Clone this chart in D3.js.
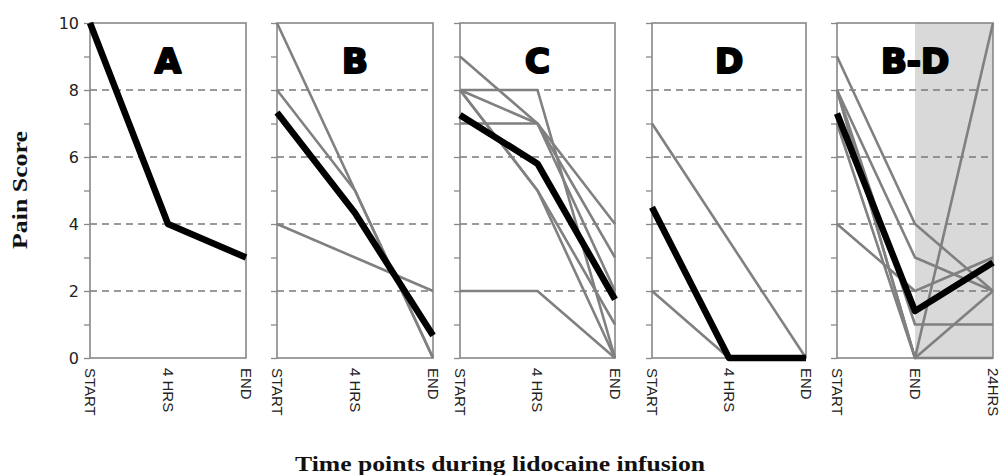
<!DOCTYPE html>
<html>
<head>
<meta charset="utf-8">
<script src="https://cdnjs.cloudflare.com/ajax/libs/d3/7.8.5/d3.min.js"></script>
<style>
  html, body { margin: 0; padding: 0; background: #fff; }
  svg { display: block; }
</style>
</head>
<body>
<script>
// ---- data ----
const categoriesMain = ["START", "4 HRS", "END"];
const categoriesBD = ["START", "END", "24HRS"];
const yTickLabels = [0, 2, 4, 6, 8, 10];
const panelTitles = ["A", "B", "C", "D", "B-D"];

const panelA_patients = [];
const panelA_mean = [10, 4, 3];

const panelB_patients = [[10, 5, 0], [8, 5, 0], [4, 3, 2]];
const panelB_mean = [7.33, 4.33, 0.67];

const panelC_patients = [[9, 7, 4], [8, 8, 0], [8, 7, 3], [7, 7, 2], [8, 5, 1], [8, 5, 0], [2, 2, 0]];
const panelC_mean = [7.25, 5.8, 1.75];

const panelD_patients = [[7, null, 0], [2, 0, 0]];
const panelD_mean = [4.5, 0, 0];

const panelBD_patients = [[9, 4, 2], [8, 3, 2], [4, 2, 3], [8, 0, 10], [8, 1, 1], [8, 0, 2], [7, 0, 0]];
const panelBD_mean = [7.3, 1.4, 2.85];

// ---- layout ----
const W = 1001, H = 475;
const plotTop = 23, plotBottom = 358;
const panels = [
  { title: panelTitles[0], cats: categoriesMain, patients: panelA_patients, mean: panelA_mean, x0: 90, x1: 246 },
  { title: panelTitles[1], cats: categoriesMain, patients: panelB_patients, mean: panelB_mean, x0: 277, x1: 433 },
  { title: panelTitles[2], cats: categoriesMain, patients: panelC_patients, mean: panelC_mean, x0: 460, x1: 615 },
  { title: panelTitles[3], cats: categoriesMain, patients: panelD_patients, mean: panelD_mean, x0: 652, x1: 806 },
  { title: panelTitles[4], cats: categoriesBD, patients: panelBD_patients, mean: panelBD_mean, x0: 837, x1: 993, shade: true }
];

const svg = d3.select("body").append("svg").attr("width", W).attr("height", H);
const y = d3.scaleLinear().domain([0, 10]).range([plotBottom, plotTop]);

const gray = "#808080";

panels.forEach((p, pi) => {
  const x = d3.scalePoint().domain(p.cats).range([p.x0, p.x1]).padding(0);
  const g = svg.append("g");

  if (p.shade) {
    g.append("rect")
      .attr("x", x(p.cats[1])).attr("y", y(10))
      .attr("width", x(p.cats[2]) - x(p.cats[1]))
      .attr("height", y(0) - y(10))
      .attr("fill", "#d9d9d9");
  }

  // gridlines
  g.selectAll("line.grid").data([2, 4, 6, 8]).enter().append("line")
    .attr("x1", p.x0).attr("x2", p.x1 - 4)
    .attr("y1", d => y(d)).attr("y2", d => y(d))
    .attr("stroke", "#7a7a7a").attr("stroke-width", 1.6)
    .attr("stroke-dasharray", "7,5");

  // left axis ticks
  const axis = d3.axisLeft(y).ticks(10).tickSize(6)
    .tickFormat(d => (pi === 0 && yTickLabels.includes(d)) ? d : "");
  const ax = g.append("g").attr("transform", `translate(${p.x0},0)`).call(axis);
  ax.select(".domain").remove();
  ax.selectAll(".tick line").attr("stroke", "#888").attr("stroke-width", 1.3);
  ax.selectAll(".tick text")
    .attr("font-family", "DejaVu Sans, sans-serif")
    .attr("font-size", 16).attr("fill", "#222").attr("x", -11);

  // frame
  g.append("rect")
    .attr("x", p.x0).attr("y", y(10))
    .attr("width", p.x1 - p.x0).attr("height", y(0) - y(10))
    .attr("fill", "none").attr("stroke", "#888").attr("stroke-width", 1.6);

  const line = d3.line()
    .x(d => x(d.c)).y(d => y(d.v));
  const toPts = arr => arr.map((v, i) => ({ c: p.cats[i], v })).filter(d => d.v !== null);

  g.selectAll("path.pt").data(p.patients).enter().append("path")
    .attr("d", d => line(toPts(d)))
    .attr("fill", "none").attr("stroke", gray).attr("stroke-width", 2.6)
    .attr("stroke-linejoin", "round");

  g.append("path")
    .attr("d", line(toPts(p.mean)))
    .attr("fill", "none").attr("stroke", "#000").attr("stroke-width", 6.5)
    .attr("stroke-linejoin", "round");

  // panel title
  g.append("text")
    .attr("x", (p.x0 + p.x1) / 2).attr("y", 73)
    .attr("text-anchor", "middle")
    .attr("font-family", "DejaVu Sans, sans-serif")
    .attr("font-weight", "bold").attr("font-size", 34)
    .attr("stroke", "#000").attr("stroke-width", 2.2)
    .attr("stroke-linejoin", "round")
    .attr("fill", "#000")
    .text(p.title);

  // x category labels (rotated)
  g.selectAll("text.xl").data(p.cats).enter().append("text")
    .attr("transform", d => `translate(${x(d)},368) rotate(90)`)
    .attr("dominant-baseline", "central")
    .attr("font-family", "Liberation Sans, Arial, sans-serif")
    .attr("font-size", 15).attr("fill", "#222")
    .text(d => d);
});

// axis titles
svg.append("text")
  .attr("transform", "translate(27,190) rotate(-90)")
  .attr("text-anchor", "middle")
  .attr("font-family", "Liberation Serif, Times New Roman, serif")
  .attr("font-weight", "bold").attr("font-size", 22).attr("fill", "#111")
  .attr("textLength", 118).attr("lengthAdjust", "spacingAndGlyphs")
  .text("Pain Score");

svg.append("text")
  .attr("x", 500).attr("y", 471)
  .attr("text-anchor", "middle")
  .attr("font-family", "Liberation Serif, Times New Roman, serif")
  .attr("font-weight", "bold").attr("font-size", 20).attr("fill", "#111")
  .attr("textLength", 410).attr("lengthAdjust", "spacingAndGlyphs")
  .text("Time points during lidocaine infusion");
</script>
</body>
</html>
